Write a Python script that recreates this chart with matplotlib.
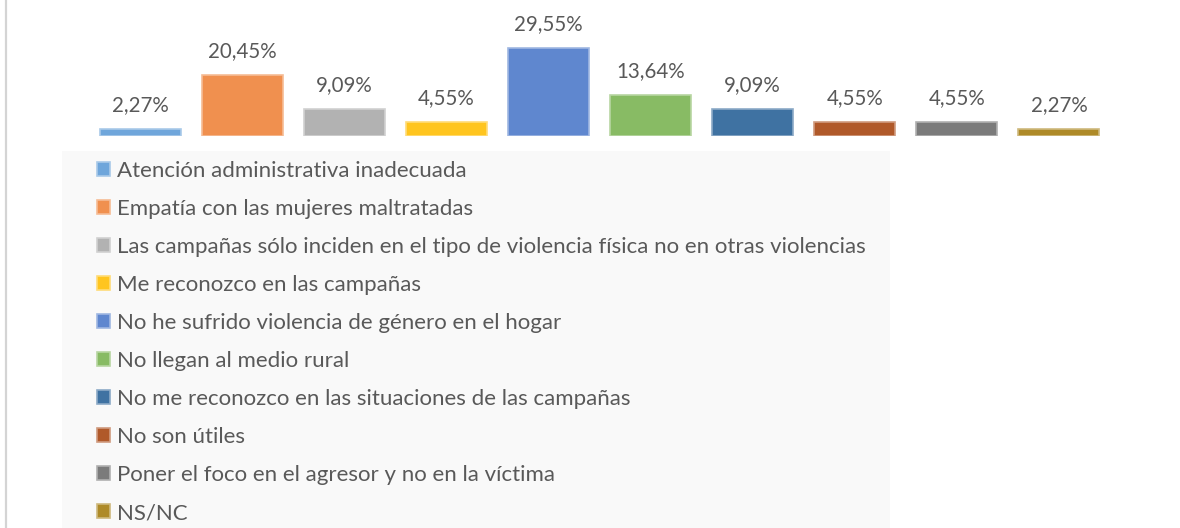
import matplotlib
matplotlib.use("Agg")
import matplotlib.pyplot as plt
import matplotlib.patches as mpatches
from matplotlib.colors import to_rgb
from matplotlib.lines import Line2D

# ── Data ───────────────────────────────────────────────────────────────────
categories = [
    "Atención administrativa inadecuada",
    "Empatía con las mujeres maltratadas",
    "Las campañas sólo inciden en el tipo de violencia física no en otras violencias",
    "Me reconozco en las campañas",
    "No he sufrido violencia de género en el hogar",
    "No llegan al medio rural",
    "No me reconozco en las situaciones de las campañas",
    "No son útiles",
    "Poner el foco en el agresor y no en la víctima",
    "NS/NC",
]
values = [2.27, 20.45, 9.09, 4.55, 29.55, 13.64, 9.09, 4.55, 4.55, 2.27]
colors = ['#6FA6DB', '#F0904F', '#B2B2B2', '#FFC51F', '#5F87CF',
          '#88BB64', '#3F72A2', '#B0592A', '#7B7B7B', '#AE8A28']

TEXT = '#595959'
FONT = ['Lato', 'DejaVu Sans']
FS = 14.8       # bar labels
FS_LEG = 16     # legend


def tint(c, f=0.4):
    r, g, b = to_rgb(c)
    return (r + (1 - r) * f, g + (1 - g) * f, b + (1 - b) * f)


# ── Figure ─────────────────────────────────────────────────────────────────
W, H = 1180, 528
fig = plt.figure(figsize=(W / 100, H / 100), dpi=100)
fig.patch.set_facecolor('white')

# legend background + left border
fig.patches.append(mpatches.Rectangle((62 / W, 0), 828 / W, (H - 151) / H,
                                      transform=fig.transFigure,
                                      facecolor='#F9F9F9', edgecolor='none',
                                      zorder=0))
fig.lines.append(Line2D([5.5 / W, 5.5 / W], [0, 1], transform=fig.transFigure,
                        color='#D4D4D4', linewidth=1.6))

ax = fig.add_axes([89 / W, (H - 136) / H, 1021 / W, 136 / H])
ax.set_facecolor('none')
x = list(range(len(values)))
bars = ax.bar(x, values, width=0.793, color=colors,
              edgecolor=[tint(c) for c in colors], linewidth=1.2)

for xi, v in zip(x, values):
    ax.annotate(f"{v:.2f}%".replace('.', ','), xy=(xi, v),
                xytext=(0, 13), textcoords='offset points',
                ha='center', va='baseline', fontsize=FS, color=TEXT,
                family=FONT)

ax.set_xlim(-0.5, 9.5)
ax.set_ylim(0, 136 / 2.97)
ax.axis('off')

leg = fig.legend(handles=list(bars), labels=categories,
                 loc='upper left', bbox_to_anchor=(97 / W, (H - 161) / H),
                 frameon=False, borderpad=0, borderaxespad=0,
                 handlelength=0.585, handleheight=0.585, handletextpad=0.3,
                 labelspacing=0.81, prop={'family': FONT, 'size': FS_LEG})
for t in leg.get_texts():
    t.set_color(TEXT)

fig.savefig('out.png', dpi=100, facecolor='white')
